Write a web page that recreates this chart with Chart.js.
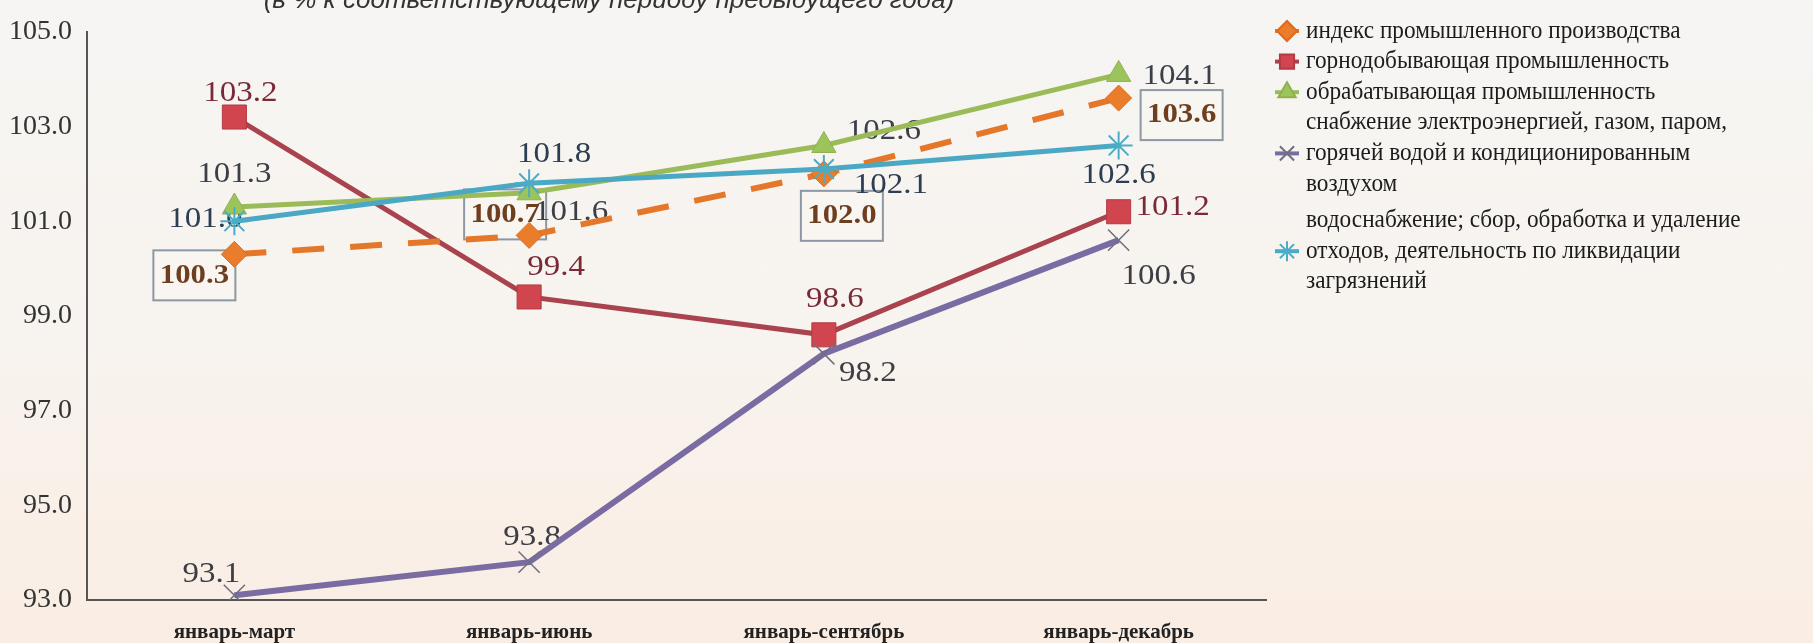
<!DOCTYPE html>
<html>
<head>
<meta charset="utf-8">
<script src="https://cdn.jsdelivr.net/npm/chart.js@4.4.1/dist/chart.umd.min.js"></script>
<style>
  html, body { margin: 0; padding: 0; }
  body {
    width: 1813px; height: 643px; overflow: hidden;
    background: linear-gradient(#f6f5f3 0%, #f8f3ee 55%, #faede3 100%);
  }
</style>
</head>
<body>
<canvas id="myChart" width="1813" height="643"></canvas>
<script>
(() => {
  'use strict'

  const periods = ['январь-март', 'январь-июнь', 'январь-сентябрь', 'январь-декабрь']
  const industryIndex = [100.3, 100.7, 102.0, 103.6]
  const mining = [103.2, 99.4, 98.6, 101.2]
  const manufacturing = [101.3, 101.6, 102.6, 104.1]
  const energy = [93.1, 93.8, 98.2, 100.6]
  const water = [101.0, 101.8, 102.1, 102.6]
  const yMin = 93
  const yMax = 105
  const yStep = 2

  const title = '(в % к соответствующему периоду предыдущего года)'
  const names = [
    'индекс промышленного производства',
    'горнодобывающая промышленность',
    'обрабатывающая промышленность',
    'снабжение электроэнергией, газом, паром,\nгорячей водой и кондиционированным\nвоздухом',
    'водоснабжение; сбор, обработка и удаление\nотходов, деятельность по ликвидации\nзагрязнений'
  ]

  // where each value label sits relative to its point (px)
  const labelOffsets = [
    [[-40, 21], [-24, -21], [18, 42], [63, 17]],
    [[6, -24], [27, -30], [11, -36], [54, -5]],
    [[0, -33], [42, 19], [60, -14], [61, 2]],
    [[-23, -21], [3, -25], [44, 19], [40, 36]],
    [[-29, -2], [25, -29], [67, 16], [0, 30]]
  ]
  const labelColors = ['#6e3f1f', '#7a2a36', '#3b3f47', '#3d3d45', '#2e3e52']

  const valueLabels = {
    id: 'valueLabels',
    beforeDatasetsDraw (chart) {
      const c = chart.ctx
      c.save()
      c.textAlign = 'center'
      c.textBaseline = 'middle'
      chart.data.datasets.forEach((ds, i) => {
        const meta = chart.getDatasetMeta(i)
        meta.data.forEach((pt, j) => {
          const [dx, dy] = labelOffsets[i][j]
          const x = pt.x + dx
          const y = pt.y + dy
          const txt = ds.data[j].toFixed(1)
          if (i === 0) {
            c.fillStyle = 'rgba(250,246,242,0.6)'
            c.fillRect(x - 41, y - 25, 82, 50)
            c.strokeStyle = '#8c98a3'
            c.lineWidth = 2
            c.strokeRect(x - 41, y - 25, 82, 50)
            c.font = 'bold 28px "Liberation Serif"'
          } else {
            c.font = '30px "Liberation Serif"'
          }
          c.fillStyle = labelColors[i]
          c.save()
          c.translate(x, y)
          c.scale(1.1, 1)
          c.fillText(txt, 0, 0)
          c.restore()
        })
      })
      c.restore()
    }
  }

  const sideLegend = {
    id: 'sideLegend',
    afterDraw (chart) {
      const c = chart.ctx
      c.save()
      // title (cut by the top edge as in the source)
      c.font = 'italic 26px "Liberation Sans Narrow", "Liberation Sans"'
      c.fillStyle = '#333'
      c.textAlign = 'center'
      c.textBaseline = 'alphabetic'
      c.fillText(title, 609, 8)

      const mx = 1287
      const tx = 1306
      const lh = 30.6
      let y = 31
      c.font = '25px "Liberation Serif"'
      c.textAlign = 'left'
      c.textBaseline = 'middle'
      chart.data.datasets.forEach((ds) => {
        const lines = ds.label.split('\n')
        const my = y + (lines.length > 1 ? lh : 0)
        c.strokeStyle = ds.borderColor
        c.lineWidth = 4
        c.setLineDash([])
        c.beginPath()
        c.moveTo(mx - 12, my)
        c.lineTo(mx + 12, my)
        c.stroke()
        c.fillStyle = ds.pointBackgroundColor
        c.strokeStyle = ds.pointBorderColor
        c.lineWidth = 2
        Chart.helpers.drawPoint(c, { pointStyle: ds.pointStyle, radius: 10, rotation: 0, borderWidth: 2 }, mx, my)
        c.fillStyle = '#1c1c1c'
        lines.forEach((ln, k) => {
          c.save()
          c.translate(tx, y + k * lh)
          c.scale(0.93, 1)
          c.fillText(ln, 0, 0)
          c.restore()
        })
        y += lines.length * lh + (lines.length > 1 ? 6 : 0)
      })
      c.restore()
    }
  }

  const ctx = document.getElementById('myChart')
  // eslint-disable-next-line no-unused-vars
  const myChart = new Chart(ctx, {
    type: 'line',
    data: {
      labels: periods,
      datasets: [{
        label: names[0],
        data: industryIndex,
        borderColor: '#e4772a',
        borderWidth: 6,
        borderDash: [32, 26],
        pointStyle: 'rectRot',
        pointRadius: 13,
        pointBackgroundColor: '#ea7d2c',
        pointBorderColor: '#e06a1c',
        pointBorderWidth: 1,
        order: 3
      }, {
        label: names[1],
        data: mining,
        borderColor: '#a9434d',
        borderWidth: 5,
        pointStyle: 'rect',
        pointRadius: 17,
        pointBackgroundColor: '#d1454f',
        pointBorderColor: '#b23a44',
        pointBorderWidth: 1,
        order: 5
      }, {
        label: names[2],
        data: manufacturing,
        borderColor: '#9bbb59',
        borderWidth: 5,
        pointStyle: 'triangle',
        pointRadius: 14,
        pointBackgroundColor: '#9cc45c',
        pointBorderColor: '#8fb04f',
        pointBorderWidth: 1,
        order: 2
      }, {
        label: names[3],
        data: energy,
        borderColor: '#7a6ca2',
        borderWidth: 6,
        pointStyle: 'crossRot',
        pointRadius: 15,
        pointBackgroundColor: '#6f6f80',
        pointBorderColor: '#6f6f80',
        pointBorderWidth: 1.5,
        order: 4
      }, {
        label: names[4],
        data: water,
        borderColor: '#4aa8c4',
        borderWidth: 5,
        pointStyle: 'star',
        pointRadius: 14,
        pointBackgroundColor: '#4bacc6',
        pointBorderColor: '#4bacc6',
        pointBorderWidth: 2,
        order: 1
      }]
    },
    options: {
      responsive: false,
      animation: false,
      layout: { padding: { top: 23, right: 547, left: 0, bottom: 0 } },
      scales: {
        x: {
          offset: true,
          grid: { display: false, drawTicks: false },
          border: { display: true, color: '#555', width: 2 },
          ticks: {
            padding: 20,
            color: '#222',
            font: { family: 'Liberation Serif', size: 21, weight: 'bold' }
          },
          afterFit (s) { s.height = 43 }
        },
        y: {
          min: yMin,
          max: yMax,
          grid: { display: false, drawTicks: false },
          border: { display: true, color: '#555', width: 2 },
          ticks: {
            stepSize: yStep,
            padding: 15,
            color: '#333',
            font: { family: 'Liberation Serif', size: 28 },
            callback: (v) => v.toFixed(1)
          },
          afterFit (s) { s.width = 87 }
        }
      },
      plugins: {
        legend: { display: false },
        tooltip: { enabled: false }
      }
    },
    plugins: [valueLabels, sideLegend]
  })
})()
</script>
</body>
</html>
